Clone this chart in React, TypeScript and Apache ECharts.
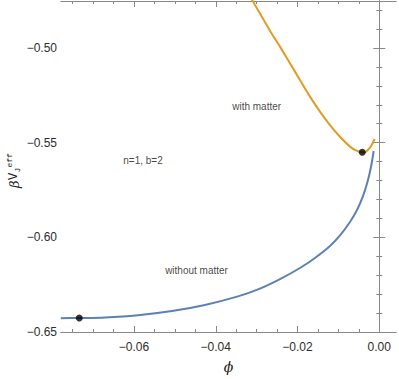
import React, { useEffect, useRef } from "react";
import * as echarts from "echarts";

// Data
const blueX = [-0.0779, -0.07339, -0.0671, -0.05903, -0.05071, -0.04264, -0.03457, -0.02919, -0.02429, -0.0194, -0.01573, -0.01206, -0.00961, -0.00717, -0.00545, -0.00399, -0.00289, -0.00203, -0.00137];
const blueY = [-0.6427, -0.6426, -0.6423, -0.6411, -0.6389, -0.6357, -0.6312, -0.6271, -0.6221, -0.6162, -0.6109, -0.6046, -0.599, -0.5919, -0.5856, -0.5782, -0.5708, -0.5629, -0.5544];

const orangeX = [-0.03408, -0.03114, -0.02674, -0.02429, -0.02185, -0.0194, -0.01695, -0.01451, -0.01206, -0.00961, -0.00717, -0.0057, -0.00416, -0.00325, -0.00228, -0.00166, -0.00113];
const orangeY = [-0.4641, -0.4746, -0.4909, -0.4993, -0.5081, -0.5169, -0.5257, -0.5336, -0.5407, -0.5469, -0.5521, -0.5541, -0.5551, -0.5547, -0.5526, -0.5504, -0.5481];

const dotsX = [-0.07339, -0.00416];
const dotsY = [-0.6426, -0.5551];

const noteTexts = ["with matter", "n=1, b=2", "without matter"];
const noteX = [-0.03, -0.0578, -0.0447];
const noteY = [-0.531, -0.5592, -0.6173];

const xMajor = [-0.06, -0.04, -0.02, 0];
const xMinor = [-0.075, -0.07, -0.065, -0.055, -0.05, -0.045, -0.035, -0.03, -0.025, -0.015, -0.01, -0.005];
const yMajor = [-0.65, -0.6, -0.55, -0.5];
const yMinor = [-0.64, -0.63, -0.62, -0.61, -0.59, -0.58, -0.57, -0.56, -0.54, -0.53, -0.52, -0.51, -0.49, -0.48];

const X_MIN = -0.07786;
const X_MAX = 0.00409;
const Y_MIN = -0.65;
const Y_MAX = -0.4752;

const FRAME = "#888888";
const LABEL = "#2e2e2e";
const BLUE = "#5E81B5";
const ORANGE = "#E19C24";

const fmt = (v: number) => {
  const s = Math.abs(v).toFixed(2);
  return v < -1e-9 ? "\u2212" + s : s;
};

function makeAxis(position: string, ticks: number[], len: number, labels: boolean, min: number, max: number, extra: any = {}) {
  return {
    type: "value",
    position,
    min,
    max,
    scale: true,
    axisLine: { show: true, lineStyle: { color: FRAME, width: 1 } },
    splitLine: { show: false },
    axisTick: { show: true, inside: true, length: len, customValues: ticks, lineStyle: { color: FRAME, width: 1 } },
    axisLabel: labels
      ? { show: true, customValues: ticks, formatter: fmt, color: LABEL, fontSize: 12, fontFamily: "Liberation Sans", margin: extra.margin ?? 6 }
      : { show: false, customValues: ticks },
    minorTick: { show: false },
    ...extra,
  };
}

export default function App() {
  const ref = useRef<HTMLDivElement>(null);
  useEffect(() => {
    if (!ref.current) return;
    const chart = echarts.init(ref.current, null, { renderer: "svg" });
    const blue = blueX.map((x, i) => [x, blueY[i]]);
    const orange = orangeX.map((x, i) => [x, orangeY[i]]);
    const dots = dotsX.map((x, i) => [x, dotsY[i]]);
    const notes = noteTexts.map((t, i) => ({ value: [noteX[i], noteY[i]], name: t }));
    chart.setOption({
      animation: false,
      backgroundColor: "#ffffff",
      grid: { left: 61, right: 3, top: 1, bottom: 47, containLabel: false },
      xAxis: [
        makeAxis("bottom", xMajor, 6, true, X_MIN, X_MAX, {
          margin: 9,
          name: "\u03D5",
          nameLocation: "middle",
          nameGap: 28,
          nameTextStyle: { fontFamily: "DejaVu Serif", fontStyle: "italic", fontSize: 14, color: "#222" },
        }),
        makeAxis("bottom", xMinor, 3, false, X_MIN, X_MAX),
        makeAxis("top", xMajor, 6, false, X_MIN, X_MAX),
        makeAxis("top", xMinor, 3, false, X_MIN, X_MAX),
      ],
      yAxis: [
        makeAxis("left", yMajor, 6, true, Y_MIN, Y_MAX, { margin: 4 }),
        makeAxis("left", yMinor, 3, false, Y_MIN, Y_MAX),
        makeAxis("right", yMajor, 6, false, Y_MIN, Y_MAX),
        makeAxis("right", yMinor, 3, false, Y_MIN, Y_MAX),
      ],
      graphic: [
        {
          type: "group",
          x: 14,
          y: 167,
          rotation: Math.PI / 2,
          children: [
            { type: "text", x: -21, y: 0, style: { text: "\u03B2", fontFamily: "DejaVu Serif", fontStyle: "italic", fontSize: 13, fill: "#222", verticalAlign: "middle" } },
            { type: "text", x: -13, y: 0, style: { text: "V", fontFamily: "Liberation Mono", fontSize: 12, fill: "#222", verticalAlign: "middle" } },
            { type: "text", x: -5.5, y: 3, style: { text: "J", fontFamily: "Liberation Mono", fontSize: 8, fill: "#222", verticalAlign: "middle" } },
            { type: "text", x: -0.5, y: -5, style: { text: "eff", fontFamily: "Liberation Mono", fontSize: 8, fill: "#222", verticalAlign: "middle" } },
          ],
        },
      ],
      series: [
        {
          type: "line",
          data: blue,
          xAxisIndex: 0,
          yAxisIndex: 0,
          showSymbol: false,
          smooth: 0.25,
          lineStyle: { color: BLUE, width: 2 },
          itemStyle: { color: BLUE },
          clip: true,
          z: 2,
        },
        {
          type: "line",
          data: orange,
          xAxisIndex: 0,
          yAxisIndex: 0,
          showSymbol: false,
          smooth: 0.25,
          lineStyle: { color: ORANGE, width: 2 },
          itemStyle: { color: ORANGE },
          clip: true,
          z: 2,
        },
        {
          type: "scatter",
          data: dots,
          xAxisIndex: 0,
          yAxisIndex: 0,
          symbolSize: 7,
          itemStyle: { color: "#000000" },
          z: 3,
        },
        {
          type: "scatter",
          data: notes,
          xAxisIndex: 0,
          yAxisIndex: 0,
          symbolSize: 0,
          silent: true,
          label: {
            show: true,
            position: "inside",
            formatter: (p: any) => p.name,
            fontFamily: "Liberation Sans",
            fontSize: 10,
            color: "#111",
          },
          z: 4,
        },
      ],
    });
    return () => chart.dispose();
  }, []);
  return <div ref={ref} style={{ position: "fixed", left: 0, top: 0, width: 399, height: 379, background: "#fff" }} />;
}
